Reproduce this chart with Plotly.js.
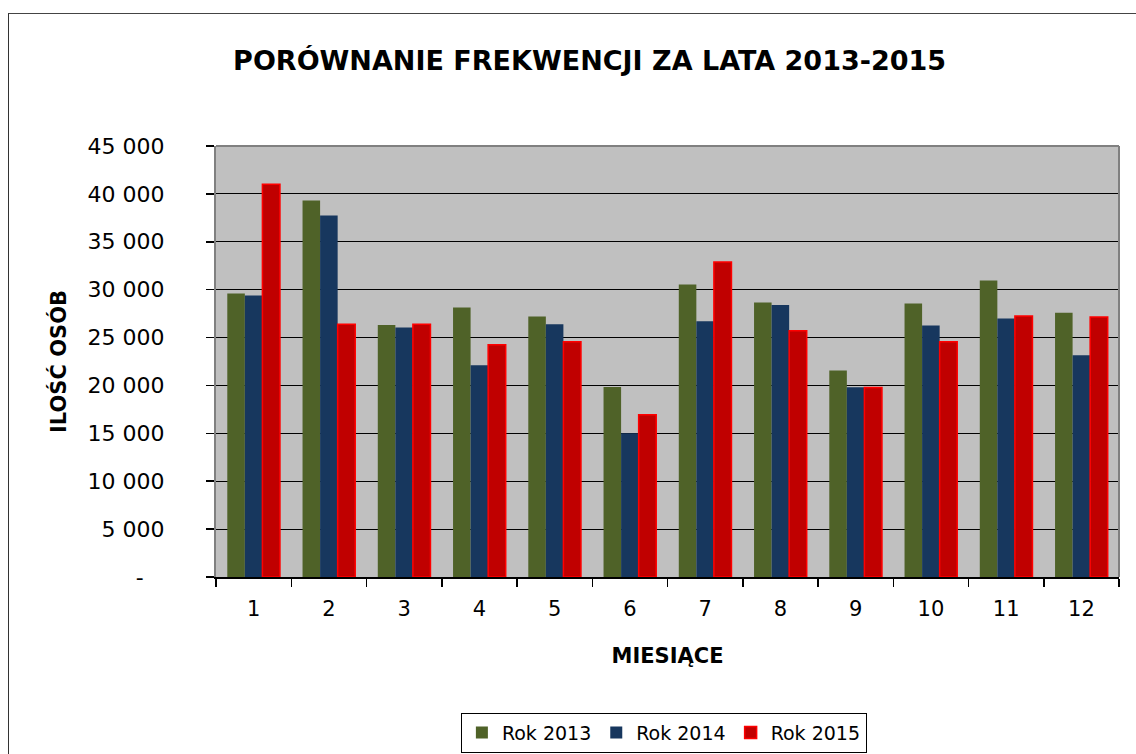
<!DOCTYPE html>
<html>
<head>
<meta charset="utf-8">
<script src="https://cdn.plot.ly/plotly-3.0.1.min.js"></script>
<style>
  html, body { margin: 0; padding: 0; background: #ffffff; }
  #wrap { position: relative; width: 1136px; height: 754px; overflow: hidden; }
  #chart { width: 1136px; height: 754px; }
  #frame { position: absolute; left: 8px; top: 13px; width: 2000px; height: 2000px;
           border-left: 1px solid #333; border-top: 1px solid #444; pointer-events: none; }
</style>
</head>
<body>
<div id="wrap">
  <div id="chart"></div>
  <div id="frame"></div>
</div>
<script>
const months = ["1","2","3","4","5","6","7","8","9","10","11","12"];
const rok2013 = [29600, 39300, 26300, 28150, 27200, 19850, 30550, 28650, 21550, 28550, 30950, 27600];
const rok2014 = [29400, 37750, 26050, 22100, 26400, 15000, 26700, 28400, 19800, 26250, 27000, 23150];
const rok2015 = [41000, 26400, 26400, 24250, 24550, 16950, 32900, 25700, 19780, 24550, 27250, 27150];
const yTickVals = [0, 5000, 10000, 15000, 20000, 25000, 30000, 35000, 40000, 45000];
const yTickText = ["-\u00a0\u00a0\u00a0", "5 000", "10 000", "15 000", "20 000", "25 000", "30 000", "35 000", "40 000", "45 000"];

const FONT = "DejaVu Sans, Liberation Sans, Arial, sans-serif";

const traces = [
  { type: "bar", name: "Rok 2013", x: months, y: rok2013,
    marker: { color: "#4F6228", line: { width: 0 } } },
  { type: "bar", name: "Rok 2014", x: months, y: rok2014,
    marker: { color: "#17375E", line: { width: 0 } } },
  { type: "bar", name: "Rok 2015", x: months, y: rok2015,
    marker: { color: "#C00000", line: { color: "#FF0000", width: 1.5 } } }
];

const layout = {
  width: 1136, height: 754,
  margin: { l: 216, r: 17, t: 146, b: 177, autoexpand: false },
  paper_bgcolor: "rgba(0,0,0,0)",
  plot_bgcolor: "#C0C0C0",
  font: { family: FONT, color: "#000000", size: 20 },
  showlegend: true,
  hovermode: false,
  barmode: "group",
  bargap: 0.30,
  bargroupgap: 0,
  title: {
    text: "PORÓWNANIE FREKWENCJI ZA LATA 2013-2015",
    font: { family: FONT, size: 27, color: "#000000", weight: "bold" },
    x: 0.519, xref: "container", xanchor: "center",
    y: 0.920, yref: "container", yanchor: "middle"
  },
  xaxis: {
    type: "category",
    title: { text: "MIESIĄCE", font: { family: FONT, size: 21, weight: "bold" }, standoff: 28 },
    tickfont: { family: FONT, size: 21 },
    ticks: "outside", tickson: "boundaries", ticklen: 8, tickcolor: "#000000", tickwidth: 1.5,
    ticklabelstandoff: 12,
    showline: true, linecolor: "#000000", linewidth: 2,
    showgrid: false, zeroline: false, fixedrange: true
  },
  yaxis: {
    title: { text: "ILOŚĆ OSÓB", font: { family: FONT, size: 21, weight: "bold" }, standoff: 15 },
    range: [0, 45000],
    tickmode: "array", tickvals: yTickVals, ticktext: yTickText,
    tickfont: { family: FONT, size: 22 },
    ticks: "outside", ticklen: 8, tickcolor: "#000000", tickwidth: 1.5,
    ticklabelstandoff: 37,
    showline: true, linecolor: "#808080", linewidth: 2,
    showgrid: true, gridcolor: "#000000", gridwidth: 1.2,
    zeroline: false, fixedrange: true
  },
  shapes: [
    { type: "line", xref: "paper", yref: "paper", x0: 0, x1: 1, y0: 1, y1: 1,
      line: { color: "#808080", width: 2 }, layer: "above" },
    { type: "line", xref: "paper", yref: "paper", x0: 1, x1: 1, y0: 0, y1: 1,
      line: { color: "#808080", width: 2 }, layer: "above" }
  ],
  legend: {
    orientation: "h",
    x: 0.496, xanchor: "center",
    y: -0.315, yanchor: "top",
    bordercolor: "#000000", borderwidth: 1, bgcolor: "#ffffff",
    font: { family: FONT, size: 19 },
    itemwidth: 30,
    traceorder: "normal"
  }
};

Plotly.newPlot("chart", traces, layout, { staticPlot: true, displayModeBar: false });
</script>
</body>
</html>
